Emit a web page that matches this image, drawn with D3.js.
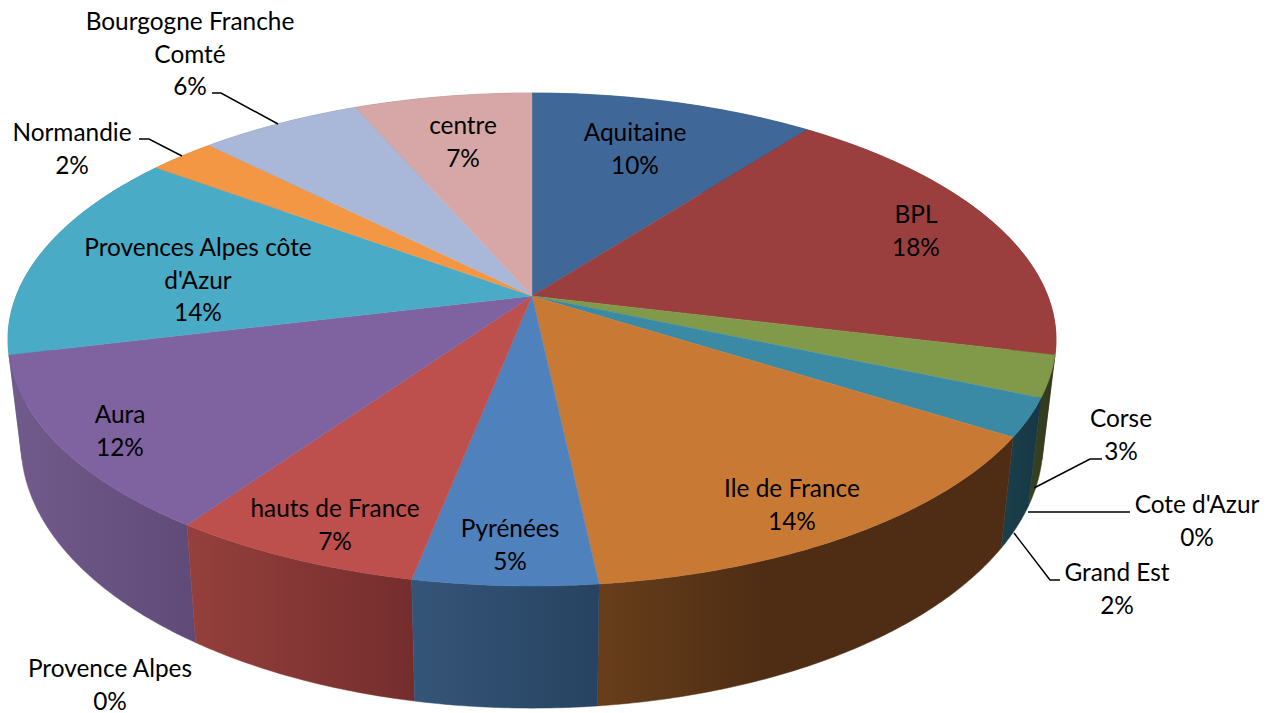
<!DOCTYPE html>
<html>
<head>
<meta charset="utf-8">
<script src="https://cdn.jsdelivr.net/npm/d3@7"></script>
<style>
  html, body { margin: 0; background: #fff; }
  svg { display: block; }
  text { font-family: Lato, "Open Sans", sans-serif; font-size: 24.4px; fill: #000; text-anchor: middle; }
</style>
</head>
<body>
<svg id="chart" width="1271" height="713"></svg>
<script>
const categories = ['Aquitaine', 'BPL', 'Corse', "Cote d'Azur", 'Grand Est', 'Ile de France', 'Pyrénées',
  'hauts de France', 'Provence Alpes', 'Aura', "Provences Alpes côte d'Azur", 'Normandie',
  'Bourgogne Franche Comté', 'centre']
const shares = [10.4, 18.4, 2.7, 0, 2.49, 14.3, 4.8, 6.6, 0, 11.52, 13.9, 2.45, 5.93, 6.51]

const topColors = ['#3f6797', '#9a3f3e', '#809a49', '#4aabc6', '#3a8aa5', '#c87a35', '#4f81bd',
  '#bd4f4c', '#7f62a0', '#7f62a0', '#4aabc6', '#f49744', '#a9b8d8', '#d6a7a6']
const wallLeft = ['#2f4d71', '#732f2e', '#37421f', '#37421f', '#1a3f4c', '#683e1a', '#355578',
  '#95403c', '#705b8c', '#705b8c', '#37808f', '#b7722f', '#7f8aa2', '#a07d7c']
const wallRight = ['#2f4d71', '#732f2e', '#2f3a1d', '#2f3a1d', '#173844', '#4e2d14', '#274361',
  '#742d2d', '#5f4a78', '#5f4a78', '#37808f', '#b7722f', '#7f8aa2', '#a07d7c']

// where the labels sit: [centre x, first baseline]
const labelPos = {
  'Aquitaine': [635, 141],
  'BPL': [916, 223],
  'Corse': [1121, 427],
  "Cote d'Azur": [1197, 513],
  'Grand Est': [1117, 581],
  'Ile de France': [792, 497],
  'Pyrénées': [510, 537],
  'hauts de France': [335, 517],
  'Provence Alpes': [110, 677],
  'Aura': [120, 423],
  "Provences Alpes côte d'Azur": [198, 256],
  'Normandie': [72, 141],
  'Bourgogne Franche Comté': [190, 30],
  'centre': [463, 134]
}
const wrapped = {
  'Bourgogne Franche Comté': ['Bourgogne Franche', 'Comté'],
  "Provences Alpes côte d'Azur": ['Provences Alpes côte', "d'Azur"]
}

const leaders = [
  [[1034, 488], [1090, 459], [1102, 459]],
  [[1028, 512], [1130, 512]],
  [[1014, 533], [1050, 580], [1060, 580]],
  [[182, 156], [149, 139], [139, 139]],
  [[278, 124], [221, 93], [212, 93]]
]

const lineGap = 32.5
const k = 0.1765 // perspective of the disc

const topPlane = { cx: 532, cy: 296, a: 515.8, b: 238.8 }
const bottomPlane = { cx: 532, cy: 396.3, a: 503, b: 256.8 }

function project(plane, angle) {
  const u = Math.sin(angle)
  const v = -Math.cos(angle)
  const w = 1 - k * v
  return [plane.cx + plane.a * u / w, plane.cy + plane.b * v / w]
}

function rim(plane, start, end) {
  const n = Math.max(2, Math.ceil((end - start) / 0.01))
  return d3.range(n + 1).map(i => project(plane, start + (end - start) * i / n))
}

const svg = d3.select('#chart')
const defs = svg.append('defs')
const line = d3.line()

const pie = d3.pie().sort(null).value(d => d)
const slices = pie(shares)
  .map((d, i) => ({ ...d, name: categories[i], i: i }))
  .filter(d => d.endAngle > d.startAngle)

// walls first, far ones before near ones, the discs cover what is left
const wallOrder = slices.slice().sort((a, b) =>
  Math.cos((b.startAngle + b.endAngle) / 2) - Math.cos((a.startAngle + a.endAngle) / 2))

const wallG = svg.append('g')
wallOrder.forEach(d => {
  const upper = rim(topPlane, d.startAngle, d.endAngle)
  const lower = rim(bottomPlane, d.startAngle, d.endAngle).reverse()
  const pts = upper.concat(lower)
  const xs = d3.extent(pts, p => p[0])

  const grad = defs.append('linearGradient')
    .attr('id', 'wall' + d.i)
    .attr('gradientUnits', 'userSpaceOnUse')
    .attr('x1', xs[0]).attr('x2', xs[1])
    .attr('y1', 0).attr('y2', 0)
  grad.append('stop').attr('offset', 0).attr('stop-color', wallLeft[d.i])
  // the Ile de France wall stops getting darker early on
  grad.append('stop').attr('offset', d.name === 'Ile de France' ? 0.4 : 1).attr('stop-color', wallRight[d.i])

  wallG.append('path')
    .attr('d', line(pts) + 'Z')
    .attr('fill', `url(#wall${d.i})`)
    .attr('stroke', `url(#wall${d.i})`)
    .attr('stroke-width', 0.5)
})

svg.append('g').selectAll('path')
  .data(slices)
  .enter().append('path')
  .attr('d', d => line([[topPlane.cx, topPlane.cy]].concat(rim(topPlane, d.startAngle, d.endAngle))) + 'Z')
  .attr('fill', d => topColors[d.i])
  .attr('stroke', d => topColors[d.i])
  .attr('stroke-width', 0.4)

svg.append('g').selectAll('path')
  .data(leaders)
  .enter().append('path')
  .attr('d', d => line(d))
  .attr('fill', 'none')
  .attr('stroke', '#000')
  .attr('stroke-width', 1.5)

const percent = d3.format('.0f')
const labelG = svg.append('g')
categories.forEach((name, i) => {
  const pos = labelPos[name]
  const lines = (wrapped[name] || [name]).concat(percent(shares[i]) + '%')
  lines.forEach((t, j) => {
    labelG.append('text')
      .attr('x', pos[0])
      .attr('y', pos[1] + j * lineGap)
      .text(t)
  })
})
</script>
</body>
</html>
